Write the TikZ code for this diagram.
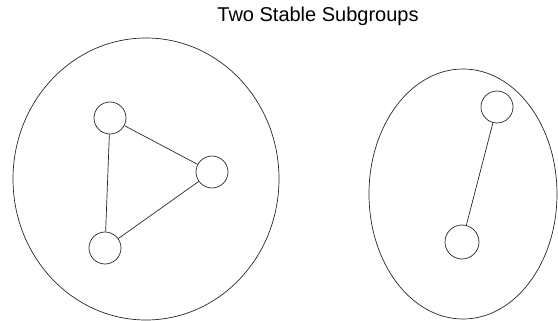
\documentclass[tikz,border=0pt]{standalone}
\usepackage{fontspec}
\setmainfont{Liberation Sans}
\usetikzlibrary{shapes.geometric}
\begin{document}
\begin{tikzpicture}[x=1pt,y=-1pt,
  line/.style={draw=black!85,line width=0.7pt},
  member/.style={circle,line,minimum size=32pt,inner sep=0pt},
  group/.style={ellipse,line,inner sep=0pt}]
\useasboundingbox (0,0) rectangle (558,321);
\node[font=\fontsize{20}{24}\selectfont] (title) at (318,16) {Two Stable Subgroups};
\node[group,minimum width=266pt,minimum height=282pt] (g1) at (146,179) {};
\node[group,minimum width=188pt,minimum height=250pt] (g2) at (463,194) {};
\node[member] (a) at (110,118) {};
\node[member] (b) at (212,172) {};
\node[member] (c) at (105,248) {};
\node[member] (d) at (497,107) {};
\node[member,minimum size=34pt] (e) at (462,242) {};
\draw[line] (a) -- (b);
\draw[line] (a) -- (c);
\draw[line] (b) -- (c);
\draw[line] (d) -- (e);
\end{tikzpicture}
\end{document}
